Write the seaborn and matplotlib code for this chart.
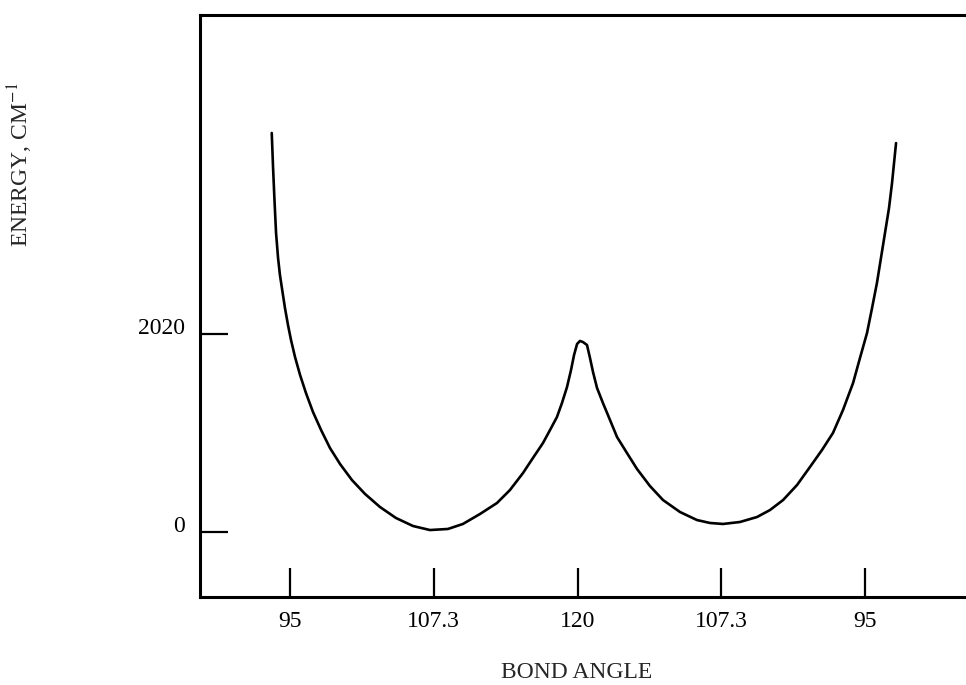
import numpy as np
import pandas as pd
import matplotlib
matplotlib.use("Agg")
import matplotlib.pyplot as plt
import seaborn as sns

# reaction coordinate positions (0..4 = the five labelled bond angles)
tick_pos = [0, 1, 2, 3, 4]
tick_labels = ["95", "107.3", "120", "107.3", "95"]
energy_ticks = [0, 2020]

# curve
coord = [-0.127, -0.118, -0.108, -0.097, -0.083, -0.070, -0.052, -0.035,
         -0.014, 0.007, 0.035, 0.070, 0.111, 0.160, 0.216, 0.278, 0.348,
         0.431, 0.522, 0.626, 0.737, 0.856, 0.974, 1.099, 1.203, 1.322,
         1.440, 1.530, 1.621, 1.690, 1.760, 1.809, 1.857, 1.892, 1.927,
         1.955, 1.976, 1.997, 2.017, 2.038, 2.066, 2.087, 2.108, 2.136,
         2.177, 2.226, 2.275, 2.344, 2.414, 2.504, 2.595, 2.713, 2.831,
         2.922, 3.012, 3.130, 3.249, 3.339, 3.430, 3.527, 3.617, 3.701,
         3.777, 3.847, 3.917, 3.965, 4.014, 4.049, 4.083, 4.111, 4.139,
         4.167, 4.188, 4.202, 4.216]
energy = [4071, 3724, 3387, 3050, 2795, 2622, 2448, 2285,
          2112, 1959, 1785, 1602, 1418, 1224, 1041, 857, 694,
          530, 388, 255, 143, 61, 20, 31, 82, 184,
          296, 428, 602, 755, 908, 1041, 1173, 1316, 1479,
          1653, 1806, 1918, 1949, 1938, 1908, 1775, 1632, 1469,
          1316, 1143, 969, 806, 643, 469, 326, 204, 122,
          92, 82, 102, 153, 224, 326, 479, 663, 837,
          1010, 1245, 1520, 1775, 2030, 2285, 2540, 2795, 3050,
          3305, 3560, 3765, 3968]

df = pd.DataFrame({"coord": coord, "energy": energy})

sns.set_theme(style="ticks")
plt.rcParams["font.family"] = ["Liberation Serif", "DejaVu Serif"]
plt.rcParams["mathtext.fontset"] = "stix"

fig = plt.figure(figsize=(9.66, 6.85), dpi=100)
ax = fig.add_axes([200 / 966, 88 / 685, 1 - 200 / 966, (597 - 15) / 685])

sns.lineplot(data=df, x="coord", y="energy", sort=False, estimator=None,
             color="black", linewidth=1.9, ax=ax)

ax.set_xlim((200 - 290) / 143.75, (966 - 290) / 143.75)
ax.set_ylim(-65 * 2020 / 198, 517 * 2020 / 198)

ax.set_xticks(tick_pos)
ax.set_xticklabels(tick_labels)
ax.set_yticks(energy_ticks)
ax.set_yticklabels([str(v) for v in energy_ticks])

ax.tick_params(axis="x", direction="in", length=21, width=1.6, pad=10,
               labelsize=17, colors="black")
ax.tick_params(axis="y", direction="in", length=20, width=1.6, pad=11,
               labelsize=17, colors="black")
for lab in ax.get_yticklabels():
    lab.set_verticalalignment("baseline")

for side in ["left", "top", "bottom"]:
    ax.spines[side].set_linewidth(2.2)
    ax.spines[side].set_color("black")
ax.spines["right"].set_visible(False)

ax.set_xlabel("")
ax.set_ylabel("")
fig.text(577 / 966, 1 - 672 / 685, "BOND ANGLE", ha="center", va="center",
         fontsize=17)
fig.text(20 / 966, 1 - 165 / 685, "ENERGY, CM$^{-1}$", ha="center",
         va="center", rotation=90, fontsize=17)

fig.savefig("out.png", dpi=100, facecolor="white")
